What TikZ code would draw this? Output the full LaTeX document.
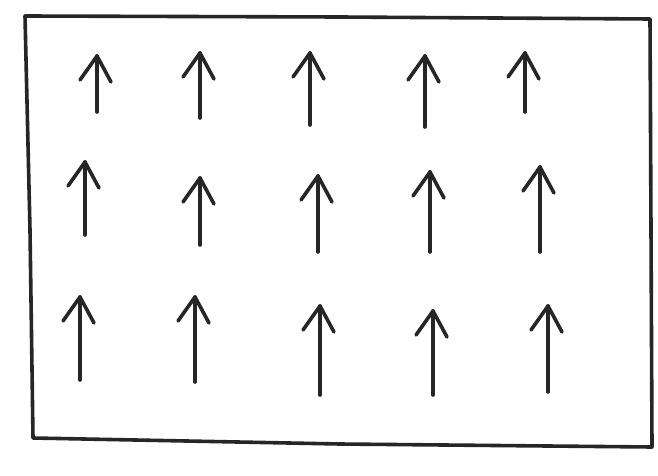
\documentclass[tikz,border=0pt]{standalone}
\begin{document}
\begin{tikzpicture}[x=1pt,y=-1pt,
  sketch/.style={draw=black!85,line width=3.6pt,line cap=round,line join=round}]
\useasboundingbox (0,0) rectangle (658,476);
\fill[white] (0,0) rectangle (658,476);
\draw[sketch] (25,16) -- (340,17) -- (650,19) -- (651,230) -- (652,447) -- (340,444) -- (33,438) -- (30,230) -- cycle;
\foreach \x/\t/\b in {97/56/112, 200/53/118, 310/53/125, 425/56/127, 525/53/112,
                      85/162/235, 200/178/245, 318/176/252, 430/172/252, 540/167/252,
                      80/297/380, 195/297/382, 320/306/395, 433/311/395, 548/306/392}{
  \draw[sketch] (\x,\b) -- (\x,\t);
  \draw[sketch] (\x-17,\t+24) -- (\x,\t) -- (\x+14,\t+26);
}
\end{tikzpicture}
\end{document}
